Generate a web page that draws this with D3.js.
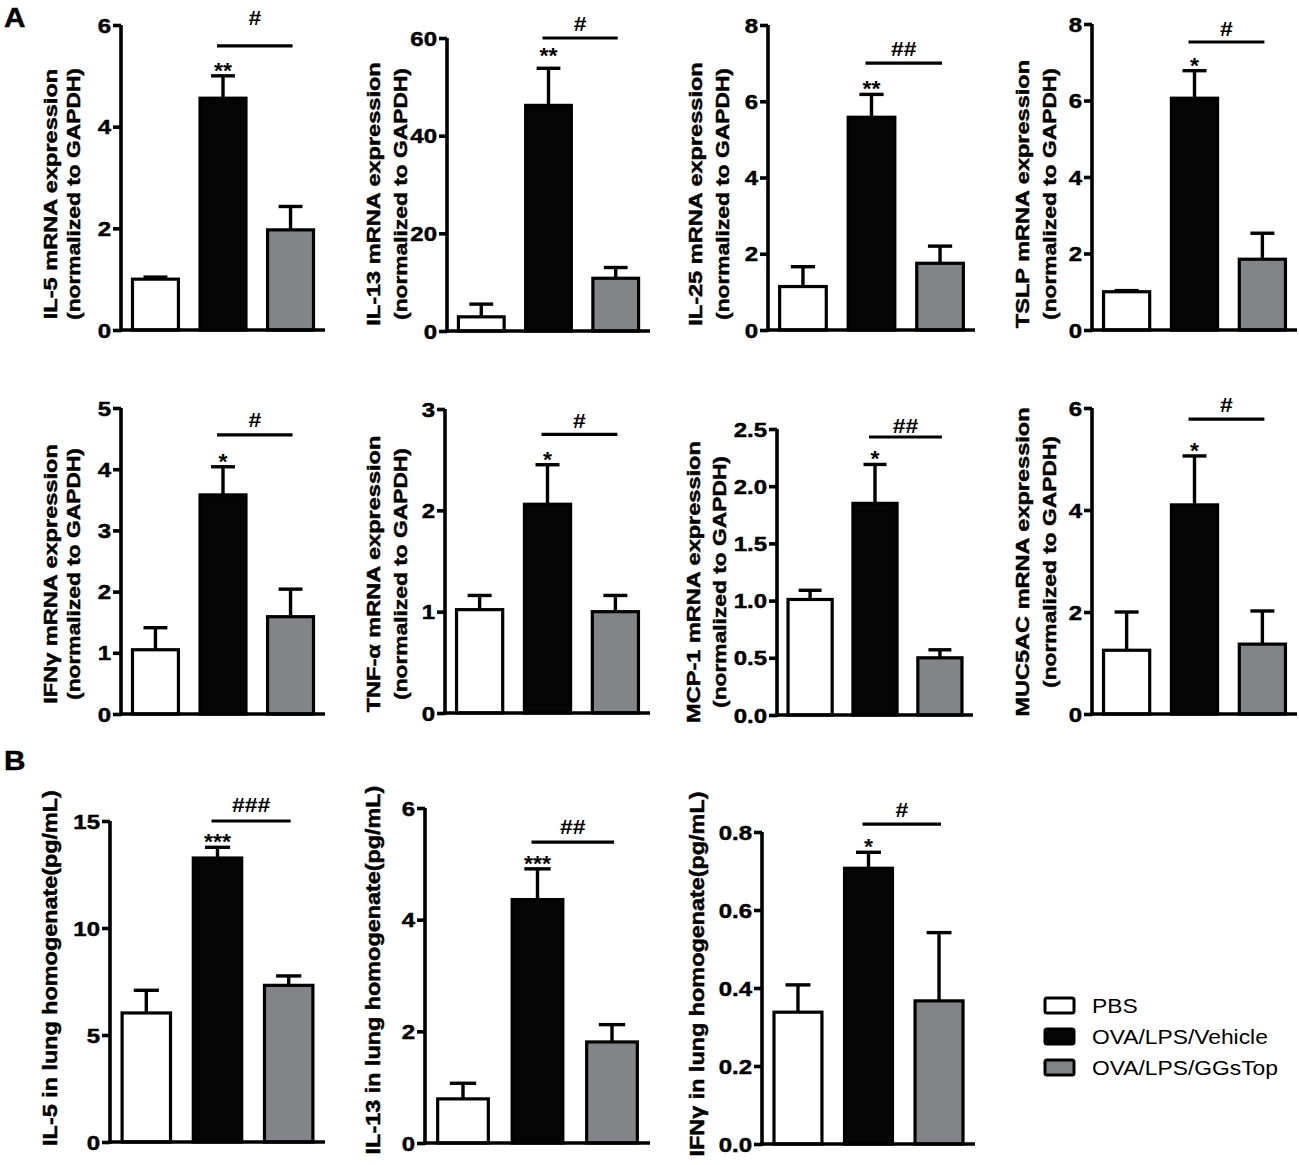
<!DOCTYPE html>
<html>
<head>
<meta charset="utf-8">
<script src="https://cdn.jsdelivr.net/npm/d3@7"></script>
<style>
  html, body { margin: 0; padding: 0; background: #fff; }
  svg { display: block; font-family: "Liberation Sans", Arial, Helvetica, sans-serif; }
</style>
</head>
<body>
<svg id="chart" width="1299" height="1165"></svg>
<script>
// ---------------- DATA ----------------
const groups = ["PBS", "OVA/LPS/Vehicle", "OVA/LPS/GGsTop"];
const groupColors = ["#ffffff", "#050505", "#838487"];

// Panel A (mRNA, normalized to GAPDH): means and SEM (upper error)
const il5mRNA      = [1.00, 4.56, 1.97];   const il5mRNAErr   = [0.04, 0.44, 0.46];
const il13mRNA     = [2.9, 46.2, 10.8];    const il13mRNAErr  = [2.6, 7.6, 2.2];
const il25mRNA     = [1.14, 5.58, 1.75];   const il25mRNAErr  = [0.52, 0.60, 0.45];
const tslpMRNA     = [1.00, 6.06, 1.85];   const tslpMRNAErr  = [0.03, 0.72, 0.68];
const ifngMRNA     = [1.05, 3.58, 1.59];   const ifngMRNAErr  = [0.36, 0.46, 0.45];
const tnfaMRNA     = [1.02, 2.06, 1.00];   const tnfaMRNAErr  = [0.14, 0.39, 0.16];
const mcp1MRNA     = [1.01, 1.85, 0.50];   const mcp1MRNAErr  = [0.08, 0.34, 0.07];
const muc5acMRNA   = [1.25, 4.10, 1.37];   const muc5acMRNAErr= [0.75, 0.96, 0.65];
// Panel B (protein in lung homogenate, pg/mL)
const il5Lung      = [6.03, 13.27, 7.32];  const il5LungErr   = [1.06, 0.50, 0.44];
const il13Lung     = [0.79, 4.36, 1.81];   const il13LungErr  = [0.28, 0.55, 0.31];
const ifngLung     = [0.338, 0.707, 0.367];const ifngLungErr  = [0.070, 0.041, 0.175];

// Axis titles
const titlesA = ["IL-5 mRNA expression", "IL-13 mRNA expression", "IL-25 mRNA expression", "TSLP mRNA expression",
                 "IFNγ mRNA expression", "TNF-α mRNA expression", "MCP-1 mRNA expression", "MUC5AC mRNA expression"];
const subtitleA = "(normalized to GAPDH)";
const titlesB = ["IL-5 in lung homogenate(pg/mL)", "IL-13 in lung homogenate(pg/mL)", "IFNγ in lung homogenate(pg/mL)"];

// Axis maxima and tick values
const yMax = [6, 60, 8, 8, 5, 3, 2.5, 6, 15, 6, 0.8];
const ticks = [
  [0, 2, 4, 6], [0, 20, 40, 60], [0, 2, 4, 6, 8], [0, 2, 4, 6, 8],
  [0, 1, 2, 3, 4, 5], [0, 1, 2, 3], [0, 0.5, 1.0, 1.5, 2.0, 2.5], [0, 2, 4, 6],
  [0, 5, 10, 15], [0, 2, 4, 6], [0, 0.2, 0.4, 0.6, 0.8]
];
const tickFormats = ["d", "d", "d", "d", "d", "d", ".1f", "d", "d", "d", ".1f"];

// Significance marks (vs PBS: stars; vehicle vs GGsTop: hashes) and bracket levels (data units)
const stars  = ["**", "**", "**", "*", "*", "*", "*", "*", "***", "***", "*"];
const hashes = ["#", "#", "##", "#", "#", "#", "##", "#", "###", "##", "#"];
const bracketLevel = [5.59, 60, 7.0, 7.53, 4.56, 2.75, 2.43, 5.78, 15.0, 5.39, 0.82];

const means = [il5mRNA, il13mRNA, il25mRNA, tslpMRNA, ifngMRNA, tnfaMRNA, mcp1MRNA, muc5acMRNA, il5Lung, il13Lung, ifngLung];
const errs  = [il5mRNAErr, il13mRNAErr, il25mRNAErr, tslpMRNAErr, ifngMRNAErr, tnfaMRNAErr, mcp1MRNAErr, muc5acMRNAErr, il5LungErr, il13LungErr, ifngLungErr];

// ---------------- LAYOUT ----------------
const layout = [
  {ax: 121, ex: 325, yt: 25,  y0: 330, t1: -71, t2: -48, tc: 194},
  {ax: 447, ex: 650, yt: 38,  y0: 331, t1: -74, t2: -47, tc: 194},
  {ax: 768, ex: 975, yt: 25,  y0: 330, t1: -73, t2: -46, tc: 194},
  {ax: 1092,ex: 1297,yt: 24,  y0: 330, t1: -70, t2: -43, tc: 194},
  {ax: 121, ex: 325, yt: 408, y0: 714, t1: -71, t2: -48, tc: 574},
  {ax: 445, ex: 650, yt: 409, y0: 713, t1: -72, t2: -45, tc: 574},
  {ax: 777, ex: 973, yt: 429, y0: 715, t1: -84, t2: -58, tc: 582},
  {ax: 1092,ex: 1297,yt: 408, y0: 714, t1: -70, t2: -43, tc: 562},
  {ax: 110, ex: 325, yt: 821, y0: 1142, t1: -60, tc: 968},
  {ax: 425, ex: 650, yt: 808, y0: 1143, t1: -52, tc: 970},
  {ax: 762, ex: 975, yt: 832, y0: 1144, t1: -65, tc: 974}
];
const hashGap = [21, 7, 7, 6, 8, 6, 4, 7, 9, 8, 7];
const starOverride = {1: 63};
const SX = 1.2;      // horizontal glyph widening to match the reference's wide heavy sans
const AXW = 3.6;

const svg = d3.select("#chart");

function label(parent, x, y, str, o) {
  const g = parent.append("g")
    .attr("transform", `translate(${x},${y}) rotate(${o.rot || 0}) scale(${o.sx || SX},1)`);
  g.append("text")
    .attr("text-anchor", o.anchor || "middle")
    .attr("dy", o.dy || 0)
    .attr("font-size", o.size)
    .attr("font-weight", o.bold ? "bold" : "normal")
    .attr("stroke", o.heavy ? "#000" : "none")
    .attr("stroke-width", o.heavy ? 0.45 : 0)
    .attr("fill", "#000")
    .text(str);
  return g;
}

means.forEach((vals, i) => {
  const L = layout[i];
  const g = svg.append("g");
  const x = d3.scaleBand().domain(groups).range([L.ax, L.ex]).paddingInner(0.32).paddingOuter(0.17);
  const y = d3.scaleLinear().domain([0, yMax[i]]).range([L.y0, L.yt]);
  const bw = x.bandwidth();

  // error bars (upper only)
  vals.forEach((v, k) => {
    const cx = x(groups[k]) + bw / 2;
    const top = y(v + errs[i][k]);
    g.append("line").attr("x1", cx).attr("x2", cx).attr("y1", y(v)).attr("y2", top)
      .attr("stroke", "#000").attr("stroke-width", 3.4);
    g.append("line").attr("x1", cx - bw * 0.26).attr("x2", cx + bw * 0.26).attr("y1", top).attr("y2", top)
      .attr("stroke", "#000").attr("stroke-width", 3.4);
  });

  // bars
  g.selectAll("rect.bar").data(vals).join("rect")
    .attr("class", "bar")
    .attr("x", (d, k) => x(groups[k]))
    .attr("width", bw)
    .attr("y", d => y(d))
    .attr("height", d => L.y0 - y(d))
    .attr("fill", (d, k) => groupColors[k])
    .attr("stroke", "#000").attr("stroke-width", 3.2);

  // y axis
  const yAxis = d3.axisLeft(y).tickValues(ticks[i]).tickFormat(d3.format(tickFormats[i]))
    .tickSize(8).tickSizeOuter(0).tickPadding(2);
  const ya = g.append("g").attr("transform", `translate(${L.ax},0)`).call(yAxis);
  ya.select(".domain").attr("stroke-width", AXW).attr("d", `M0,${L.y0 + AXW/2}V${L.yt}`);
  ya.selectAll(".tick line").attr("stroke-width", AXW);
  ya.selectAll(".tick text")
    .attr("x", 0).attr("dy", "0.35em")
    .attr("transform", `translate(-10,0) scale(${SX},1)`)
    .attr("font-size", 20).attr("font-weight", "bold").attr("fill", "#000")
    .attr("stroke", "#000").attr("stroke-width", 0.45)
    .attr("font-family", "'Liberation Sans', Arial, sans-serif");

  // x axis line
  const xAxis = d3.axisBottom(x).tickSize(0).tickFormat("");
  const xa = g.append("g").attr("transform", `translate(0,${L.y0})`).call(xAxis);
  xa.select(".domain").attr("stroke-width", AXW).attr("d", `M${L.ax - AXW/2},0H${L.ex}`);

  // axis titles (rotated; widening applies along the text direction)
  const title = i < 8 ? titlesA[i] : titlesB[i - 8];
  if (i < 8) {
    label(g, L.ax + L.t1, L.tc, title, {rot: -90, size: 19, bold: true, heavy: true, dy: "0.36em", sx: 1.24});
    label(g, L.ax + L.t2, L.tc, subtitleA, {rot: -90, size: 19, bold: true, heavy: true, dy: "0.36em", sx: 1.2});
  } else {
    label(g, L.ax + L.t1, L.tc, title, {rot: -90, size: 19.5, bold: true, heavy: true, dy: "0.36em", sx: 1.2});
  }

  // significance bracket
  const bc = x(groups[1]) + bw / 2, gc = x(groups[2]) + bw / 2;
  const ly = y(bracketLevel[i]);
  g.append("line").attr("x1", bc - 6).attr("x2", gc + 2).attr("y1", ly).attr("y2", ly)
    .attr("stroke", "#000").attr("stroke-width", 3.2);
  label(g, (bc - 6 + gc + 2) / 2, ly - hashGap[i], hashes[i], {size: 20, bold: true, sx: 1.15});
  const sy = starOverride[i] !== undefined ? starOverride[i] : y(vals[1] + errs[i][1]) + 2;
  label(g, bc, sy, stars[i], {size: 22, bold: true, sx: 1.05});
});

// panel letters
label(svg, 4, 27, "A", {size: 27, bold: true, heavy: true, anchor: "start", sx: 1.1});
label(svg, 4, 770, "B", {size: 27, bold: true, heavy: true, anchor: "start", sx: 1.1});

// legend
const legend = svg.append("g").attr("transform", "translate(1045,998)");
groups.forEach((gname, k) => {
  legend.append("rect").attr("x", 0).attr("y", k * 31).attr("width", 29).attr("height", 15)
    .attr("rx", 2).attr("fill", groupColors[k]).attr("stroke", "#000").attr("stroke-width", 3);
  label(legend, 47, k * 31 + 7.5, gname, {size: 19.5, bold: false, anchor: "start", dy: "0.36em", sx: 1.17});
});
</script>
</body>
</html>
